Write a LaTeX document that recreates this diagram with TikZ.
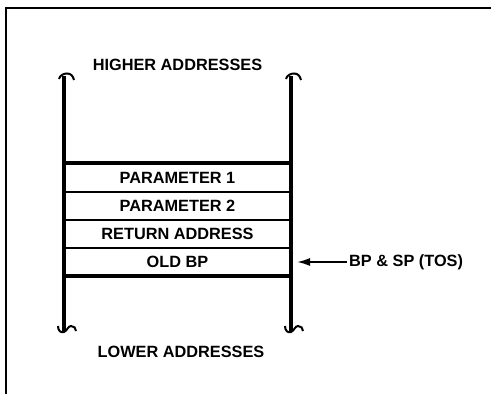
\documentclass[tikz,border=0pt]{standalone}
\usepackage{fontspec}
\setmainfont{Liberation Sans}
\usetikzlibrary{arrows.meta}
\begin{document}
\begin{tikzpicture}[x=1pt, y=-1pt, every node/.style={font=\fontsize{16.3}{19}\selectfont\bfseries}]
  \useasboundingbox (0,0) rectangle (491,394);
  % outer frame, cut off at right and bottom
  \draw[line width=2pt] (6,394) -- (6,8) -- (491,8);
  % rails with broken ends
  \foreach \X in {64,291} {
    \draw[line width=3.5pt] (\X,76) -- (\X,331);
    \draw[line width=2pt] (\X-5,79) .. controls (\X-4,75) and (\X,73.5) .. (\X+3,73.5) .. controls (\X+7,73.5) and (\X+9,76) .. (\X+10,80);
    \draw[line width=2pt] (\X-6,326) .. controls (\X-6,331) and (\X-3,333) .. (\X,332) .. controls (\X+3,331) and (\X+4,326) .. (\X+7,326) .. controls (\X+10,326) and (\X+12,328) .. (\X+12,331);
  }
  % stack entries
  \draw[line width=3.2pt] (64,163) -- (291,163);
  \draw[line width=2pt] (64,192) -- (291,192);
  \draw[line width=2pt] (64,220) -- (291,220);
  \draw[line width=2pt] (64,248) -- (291,248);
  \draw[line width=3.2pt] (64,276) -- (291,276);
  \node (high) at (177.5,65) {HIGHER ADDRESSES};
  \node (par1) at (177.5,177.5) {PARAMETER 1};
  \node (par2) at (177.5,206) {PARAMETER 2};
  \node (ret) at (177.5,234) {RETURN ADDRESS};
  \node (oldbp) at (177.5,262) {OLD BP};
  \node (low) at (181,352) {LOWER ADDRESSES};
  % pointer
  \node[anchor=west, inner sep=2pt] (bpsp) at (347,262) {BP \& SP (TOS)};
  \coordinate (tos) at (297,262);
  \draw[line width=1.8pt, -{Latex[length=13pt, width=8pt]}] (bpsp.west) -- (tos);
\end{tikzpicture}
\end{document}
